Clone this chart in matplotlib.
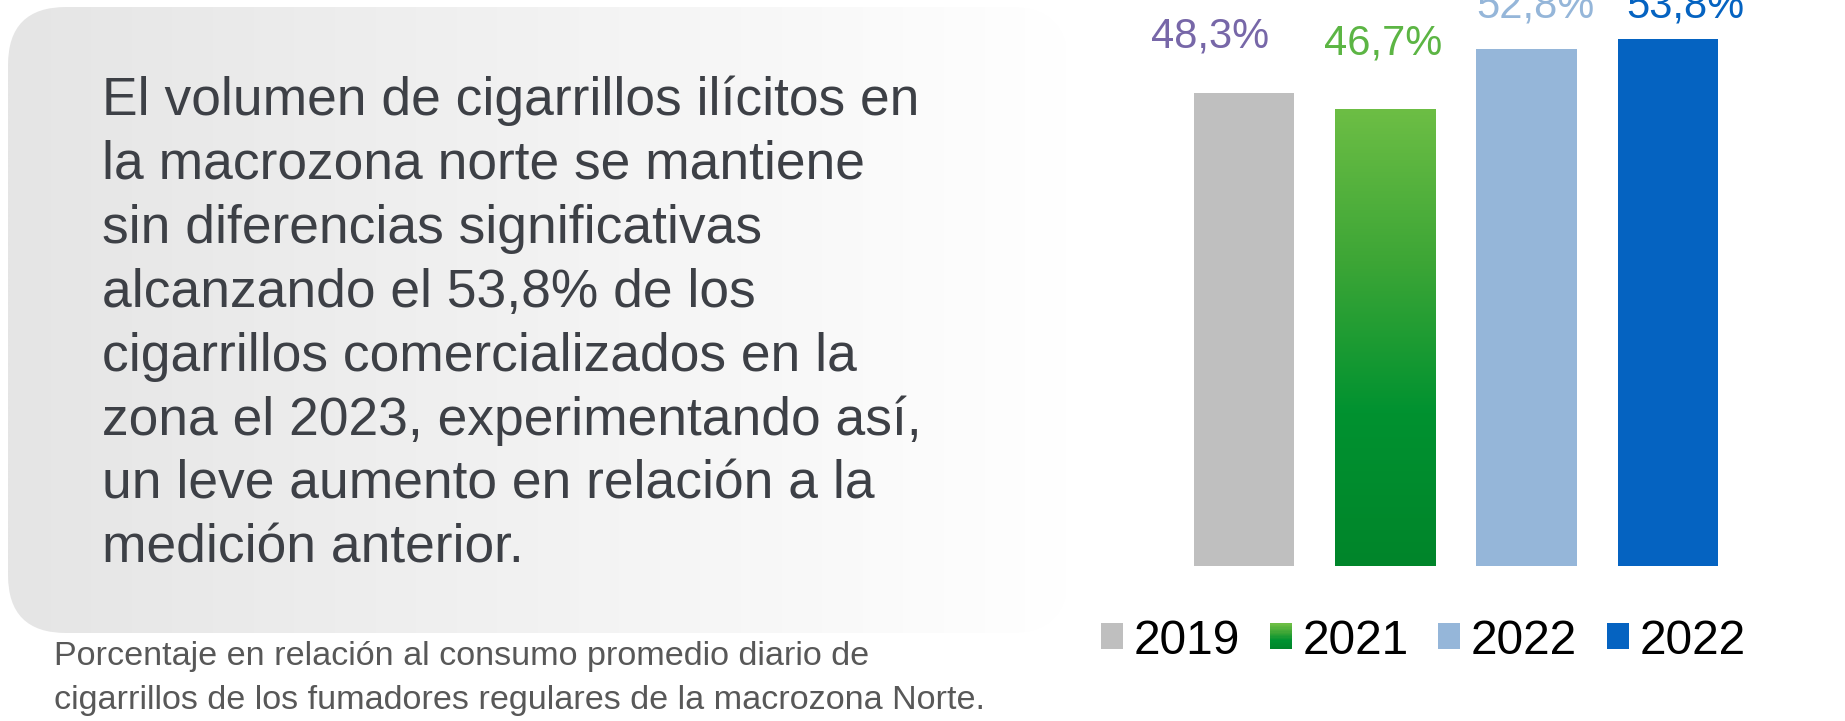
import numpy as np
import matplotlib
matplotlib.use("Agg")
import matplotlib.pyplot as plt
from matplotlib.patches import FancyBboxPatch, Patch, Rectangle
from matplotlib.legend_handler import HandlerBase
from matplotlib.colors import LinearSegmentedColormap, to_rgb

plt.rcParams['font.family'] = ['Liberation Sans', 'DejaVu Sans']

# datos
anios = ['2019', '2021', '2022', '2022']
valores = [48.3, 46.7, 52.8, 53.8]
etiquetas = ['48,3%', '46,7%', '52,8%', '53,8%']

lineas_texto = ["El volumen de cigarrillos ilícitos en",
                "la macrozona norte se mantiene",
                "sin diferencias significativas",
                "alcanzando el 53,8% de los",
                "cigarrillos comercializados en la",
                "zona el 2023, experimentando así,",
                "un leve aumento en relación a la",
                "medición anterior."]
lineas_nota = ["Porcentaje en relación al consumo promedio diario de",
               "cigarrillos de los fumadores regulares de la macrozona Norte."]

# estilos
colores_barra = ['#BFBFBF', None, '#95B6D9', '#0563C1']
colores_etiqueta = ['#7767A8', '#5CB544', '#95B6D9', '#0563C1']
verde_grad = ['#6DBE45', '#3DA636', '#009230', '#00852A']
desplaz_etiqueta = [(-34, 46), (-2, 54), (9, 32), (17, 22)]  # pixeles

W, H = 1845, 721
fig = plt.figure(figsize=(W / 100, H / 100), dpi=100)

# fondo con caja redondeada en degradado
fondo = fig.add_axes([0, 0, 1, 1])
fondo.set_xlim(0, W)
fondo.set_ylim(H, 0)
fondo.axis('off')
caja = FancyBboxPatch((8, 7), 1060, 626,
                      boxstyle='round,pad=0,rounding_size=58',
                      facecolor='none', edgecolor='none')
fondo.add_patch(caja)
grad = np.linspace(0, 1, 256)
img = np.ones((2, 256, 3))
c0 = np.array(to_rgb('#E5E5E5'))
for k in range(3):
    img[:, :, k] = c0[k] + (1 - c0[k]) * grad
im = fondo.imshow(img, extent=(8, 1068, 633, 7), aspect='auto',
                  interpolation='bilinear', zorder=0)
im.set_clip_path(caja)

for i, linea in enumerate(lineas_texto):
    fondo.text(102, 115 + i * 63.9, linea, fontsize=38.4, color='#3D4046',
               va='baseline', ha='left')
for i, linea in enumerate(lineas_nota):
    fondo.text(54, 665 + i * 44, linea, fontsize=24.6, color='#585858',
               va='baseline', ha='left')

# barras
ax = fig.add_axes([1173.5 / W, 1 - 566 / H, 565 / W, 566 / H])
x = np.arange(len(valores))
barras = ax.bar(x, valores, width=0.71,
                color=[c if c else 'none' for c in colores_barra],
                edgecolor='none')

cmap_verde = LinearSegmentedColormap.from_list('verde', verde_grad)
b = barras[1]
gimg = np.linspace(0, 1, 256).reshape(-1, 1)
gi = ax.imshow(gimg, cmap=cmap_verde, aspect='auto',
               extent=(b.get_x(), b.get_x() + b.get_width(), b.get_height(), 0),
               origin='lower', zorder=2)
gi.set_clip_path(b)
ax.set_xlim(-0.5, 3.5)
ax.set_ylim(0, 566 / 9.79)
ax.axis('off')

for xi, v, txt, col, (dx, dy) in zip(x, valores, etiquetas, colores_etiqueta,
                                      desplaz_etiqueta):
    ax.annotate(txt, (xi, v), xytext=(dx, dy), textcoords='offset pixels',
                ha='center', va='baseline', fontsize=30, color=col,
                annotation_clip=False)


class HandlerDegradado(HandlerBase):
    def create_artists(self, legend, orig_handle, xdescent, ydescent,
                       width, height, fontsize, trans):
        n = 20
        artistas = []
        cm = LinearSegmentedColormap.from_list('v', verde_grad)
        for i in range(n):
            r = Rectangle((-xdescent, -ydescent + height * i / n), width,
                          height / n + 0.3, facecolor=cm(1 - i / (n - 1)),
                          edgecolor='none', transform=trans)
            artistas.append(r)
        return artistas


handles = [Patch(facecolor=colores_barra[0]), Patch(facecolor='#3DA636'),
           Patch(facecolor=colores_barra[2]), Patch(facecolor=colores_barra[3])]
fig.legend(handles, anios, ncol=4, frameon=False, fontsize=34.5,
           loc='center left', bbox_to_anchor=(1101 / W, 1 - 641 / H),
           borderpad=0, borderaxespad=0, handlelength=0.46,
           handleheight=0.46, handletextpad=0.22, columnspacing=0.62,
           handler_map={handles[1]: HandlerDegradado()})

fig.savefig('out.png', dpi=100)
